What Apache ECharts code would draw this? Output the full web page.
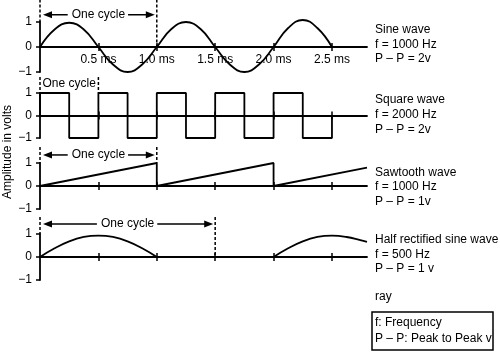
<!DOCTYPE html>
<html><head><meta charset="utf-8">
<script src="https://cdn.jsdelivr.net/npm/echarts@6/dist/echarts.min.js"></script>
<style>html,body{margin:0;padding:0;background:#fff}#c{width:500px;height:355px}</style>
</head><body><div id="c"></div>
<script>
const FONT = '"Liberation Sans", Arial, Helvetica, sans-serif';
// ---- data ----
const xTickValues = [0.5, 1.0, 1.5, 2.0, 2.5];
const xTickLabels = ['0.5 ms', '1.0 ms', '1.5 ms', '2.0 ms', '2.5 ms'];
const yTickValues = [-1, 0, 1];
const yTickLabels = ['\u22121', '0', '1'];

const sineT = [0,0.125,0.25,0.375,0.5,0.625,0.75,0.875,1,1.125,1.25,1.375,1.5,1.625,1.75,1.875,2,2.125,2.25,2.375,2.5];
const sineV = [0,0.7,0.97,0.7,0,-0.7,-1,-0.7,0,0.72,1,0.72,0,-0.7,-1,-0.7,0,0.76,1.08,0.76,0];

const squareT = [0,0,0.25,0.5,0.75,1.0,1.25,1.5,1.75,2.0,2.25,2.5];
const squareV = [0,1,-1,1,-1,1,-1,1,-1,1,-1,0];

const sawT = [0,1,1,2,2,2.8];
const sawV = [0,1,0,1,0,0.8];

const halfT = [0,0.125,0.25,0.375,0.5,0.625,0.75,0.875,1, null, 1,2, null, 2,2.125,2.25,2.375,2.5,2.625,2.75,2.8];
const halfV = [0,0.38,0.68,0.87,0.93,0.87,0.68,0.38,0, null, 0,0, null, 0,0.38,0.68,0.87,0.93,0.87,0.72,0.66];

const waveNames = ['Sine wave', 'Square wave', 'Sawtooth wave', 'Half rectified sine wave'];
const waveFreqs = ['f = 1000 Hz', 'f = 2000 Hz', 'f = 1000 Hz', 'f = 500 Hz'];
const wavePP = ['P \u2013 P = 2v', 'P \u2013 P = 2v', 'P \u2013 P = 1v', 'P \u2013 P = 1 v'];
const cycleLabel = 'One cycle';
const yAxisTitle = 'Amplitude in volts';
const noteLabel = 'ray';
const keyLines = ['f: Frequency', 'P \u2013 P: Peak to Peak v'];

// ---- layout ----
const gridBoxes = [
  {top: 22, height: 50},
  {top: 93, height: 45},
  {top: 163, height: 46},
  {top: 234, height: 46}
];
const textBlocksY = [[30, 44.5, 59], [100, 115, 130], [172.5, 187, 201.5], [240, 254.5, 269]];

function pairs(ts, vs) {
  return ts.map((t, i) => (t === null ? [NaN, '-'] : [t, vs[i]]));
}

const chart = echarts.init(document.getElementById('c'), null, {renderer: 'canvas'});

const grid = [], xAxis = [], yAxis = [];
const mainX = [];
gridBoxes.forEach((g, i) => {
  grid.push({left: 40, width: 327, top: g.top, height: g.height});
  const base = {
    gridIndex: i, type: 'value', min: 0, max: 2.8, position: 'bottom',
    splitLine: {show: false}
  };
  mainX.push(xAxis.length);
  xAxis.push(Object.assign({}, base, {
    axisLine: {show: true, onZero: true, onZeroAxisIndex: i, lineStyle: {color: '#000', width: 1.8}},
    axisTick: {show: true, customValues: xTickValues, length: 4, inside: false, lineStyle: {color: '#000', width: 1.5}},
    axisLabel: {show: false}
  }));
  xAxis.push(Object.assign({}, base, {
    axisLine: {show: false, onZero: true, onZeroAxisIndex: i},
    axisTick: {show: true, customValues: xTickValues, length: 4, inside: true, lineStyle: {color: '#000', width: 1.5}},
    axisLabel: {show: false}
  }));
  if (i === 0) {
    // label-only axis sitting on the zero line of the sine panel
    xAxis.push(Object.assign({}, base, {
      offset: -g.height / 2,
      axisLine: {show: false, onZero: false},
      axisTick: {show: false},
      axisLabel: {
        show: true, customValues: xTickValues,
        formatter: v => xTickLabels[xTickValues.indexOf(v)] || '',
        margin: 7, fontSize: 12, color: '#000', fontFamily: FONT
      }
    }));
  }
  yAxis.push({
    gridIndex: i, type: 'value', min: -1, max: 1, interval: 1, position: 'left',
    axisLine: {show: true, onZero: false, lineStyle: {color: '#000', width: 1.8}},
    axisTick: {show: true, length: 4, lineStyle: {color: '#000', width: 1.5}},
    axisLabel: {
      formatter: v => yTickLabels[yTickValues.indexOf(v)] || '',
      margin: 8, fontSize: 12, color: '#000', fontFamily: FONT
    },
    splitLine: {show: false}
  });
});

const lineStyle = {color: '#000', width: 1.8};
const series = [
  {type: 'line', xAxisIndex: mainX[0], yAxisIndex: 0, data: pairs(sineT, sineV), smooth: 0.45, showSymbol: false, clip: false, lineStyle, z: 3},
  {type: 'line', xAxisIndex: mainX[1], yAxisIndex: 1, data: pairs(squareT, squareV), step: 'end', showSymbol: false, clip: false, lineStyle, z: 3},
  {type: 'line', xAxisIndex: mainX[2], yAxisIndex: 2, data: pairs(sawT, sawV), showSymbol: false, clip: false, lineStyle, z: 3},
  {type: 'line', xAxisIndex: mainX[3], yAxisIndex: 3, data: pairs(halfT, halfV), smooth: 0.45, connectNulls: false, showSymbol: false, clip: false, lineStyle, z: 3}
];

chart.setOption({animation: false, backgroundColor: '#fff', grid, xAxis, yAxis, series});

// ---- annotations (positions converted from data coordinates) ----
const annotations = [
  {grid: 0, x0: 0, x1: 1.0, top: 1.9, leftEnd: 1, rightEnd: 0, labelY: 1.29, arrows: true},
  {grid: 1, x0: 0, x1: 0.5, top: 1.71, leftEnd: 1, rightEnd: 1, labelY: 1.4, arrows: false},
  {grid: 2, x0: 0, x1: 1.0, top: 1.7, leftEnd: 1, rightEnd: 1, labelY: 1.35, arrows: true},
  {grid: 3, x0: 0, x1: 1.5, top: 1.74, leftEnd: 1, rightEnd: 0, labelY: 1.43, arrows: true}
];
const ctx = document.createElement('canvas').getContext('2d');
ctx.font = '12px ' + FONT;
const cycleW = ctx.measureText(cycleLabel).width;

const px = (g, x, y) => chart.convertToPixel({gridIndex: g}, [x, y]);
const elements = [];
const dash = {stroke: '#000', lineWidth: 1.5, lineDash: [3, 2]};
annotations.forEach(a => {
  const l0 = px(a.grid, a.x0, a.top), l1 = px(a.grid, a.x0, a.leftEnd);
  const r0 = px(a.grid, a.x1, a.top), r1 = px(a.grid, a.x1, a.rightEnd);
  elements.push({type: 'line', z: 100, shape: {x1: l0[0], y1: l0[1], x2: l1[0], y2: l1[1]}, style: dash});
  elements.push({type: 'line', z: 100, shape: {x1: r0[0], y1: r0[1], x2: r1[0], y2: r1[1]}, style: dash});
  const lp = px(a.grid, a.x0, a.labelY), rp = px(a.grid, a.x1, a.labelY);
  const cx = (lp[0] + rp[0]) / 2, cy = lp[1];
  elements.push({type: 'text', z: 100, x: cx, y: cy, style: {text: cycleLabel, font: '12px ' + FONT, fill: '#000', textAlign: 'center', textVerticalAlign: 'middle'}});
  if (a.arrows) {
    const lt = lp[0] + 3, le = cx - cycleW / 2 - 4;
    const rt = rp[0] - 2, rs = cx + cycleW / 2 + 3;
    elements.push({type: 'line', z: 100, shape: {x1: lt + 6, y1: cy, x2: le, y2: cy}, style: {stroke: '#000', lineWidth: 1.5}});
    elements.push({type: 'polygon', z: 100, shape: {points: [[lt, cy], [lt + 9, cy - 3.5], [lt + 9, cy + 3.5]]}, style: {fill: '#000'}});
    elements.push({type: 'line', z: 100, shape: {x1: rs, y1: cy, x2: rt - 6, y2: cy}, style: {stroke: '#000', lineWidth: 1.5}});
    elements.push({type: 'polygon', z: 100, shape: {points: [[rt, cy], [rt - 9, cy - 3.5], [rt - 9, cy + 3.5]]}, style: {fill: '#000'}});
  }
});

const txt = (s, x, y, extra) => Object.assign({type: 'text', z: 100, x, y, style: {text: s, font: '12px ' + FONT, fill: '#000', textAlign: 'left', textVerticalAlign: 'middle'}}, extra || {});
waveNames.forEach((n, i) => {
  elements.push(txt(n, 375, textBlocksY[i][0]));
  elements.push(txt(waveFreqs[i], 375, textBlocksY[i][1]));
  elements.push(txt(wavePP[i], 375, textBlocksY[i][2]));
});
elements.push(txt(noteLabel, 375, 297));
elements.push({type: 'rect', z: 100, shape: {x: 372, y: 312, width: 121, height: 38}, style: {fill: 'none', stroke: '#000', lineWidth: 1.5}});
elements.push(txt(keyLines[0], 375, 323));
elements.push(txt(keyLines[1], 375, 338.5));
elements.push({type: 'text', z: 100, x: 8, y: 152, rotation: Math.PI / 2, style: {text: yAxisTitle, font: '12px ' + FONT, fill: '#000', textAlign: 'center', textVerticalAlign: 'middle'}});

chart.setOption({graphic: {elements}});
</script></body></html>
